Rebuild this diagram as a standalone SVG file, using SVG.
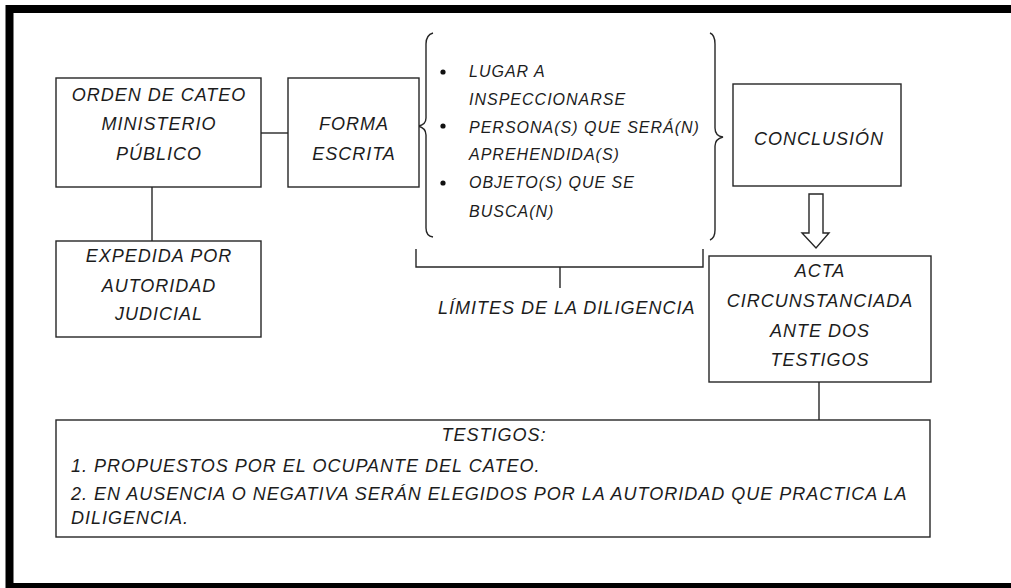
<svg xmlns="http://www.w3.org/2000/svg" width="1011" height="588" viewBox="0 0 1011 588">
<style>
.box{fill:#fff;stroke:#262626;stroke-width:1.4}
.ln{fill:none;stroke:#262626;stroke-width:1.4}
.t{font-family:"Liberation Sans",Arial,sans-serif;font-style:italic;font-size:18px;fill:#1c1c1c;letter-spacing:1px}
.c{text-anchor:middle}
.s{font-size:16px}
</style>
<rect x="0" y="0" width="1011" height="588" fill="#fff"/>
<rect x="9.5" y="9" width="1100" height="578" fill="none" stroke="#000" stroke-width="8"/>
<g id="connectors">
<line class="ln" x1="261" y1="133" x2="288" y2="133"/>
<line class="ln" x1="152" y1="187" x2="152" y2="241"/>
<path class="ln" d="M433,33 Q426,35 426,44 L426,118 Q426,125 418,126 Q426,128 426,135 L426,228 Q426,236 433,237"/>
<path class="ln" d="M710,33 Q715,35 715,44 L715,128 Q715,136 723,137 Q715,139 715,146 L715,230 Q715,238 710,240"/>
<path class="ln" d="M416,249 L416,267 L703,267 L703,249 M560,267 L560,288"/>
<path class="ln" d="M809,194 L823,194 L823,233 L829,233 L816,248 L802,233 L809,233 Z"/>
<line class="ln" x1="819" y1="382" x2="819" y2="420"/>
</g>
<g id="orden">
<rect class="box" x="56" y="78" width="205" height="109"/>
<text class="t c" x="159" y="101">ORDEN DE CATEO</text>
<text class="t c" x="159" y="130">MINISTERIO</text>
<text class="t c" x="159" y="160">PÚBLICO</text>
</g>
<g id="forma">
<rect class="box" x="288" y="78" width="131" height="109"/>
<text class="t c" x="354" y="130">FORMA</text>
<text class="t c" x="354" y="160">ESCRITA</text>
</g>
<g id="expedida">
<rect class="box" x="56" y="241" width="205" height="96"/>
<text class="t c" x="159" y="262">EXPEDIDA POR</text>
<text class="t c" x="159" y="292">AUTORIDAD</text>
<text class="t c" x="159" y="320">JUDICIAL</text>
</g>
<g id="limites">
<circle cx="443" cy="72" r="2.6" fill="#111"/>
<circle cx="443" cy="126" r="2.6" fill="#111"/>
<circle cx="443" cy="183" r="2.6" fill="#111"/>
<text class="t s" x="469" y="77">LUGAR A</text>
<text class="t s" x="469" y="105">INSPECCIONARSE</text>
<text class="t s" x="469" y="133">PERSONA(S) QUE SERÁ(N)</text>
<text class="t s" x="469" y="160">APREHENDIDA(S)</text>
<text class="t s" x="469" y="188">OBJETO(S) QUE SE</text>
<text class="t s" x="469" y="217">BUSCA(N)</text>
</g>
<g id="limites-label">
<text class="t" x="438" y="314">LÍMITES DE LA DILIGENCIA</text>
</g>
<g id="conclusion">
<rect class="box" x="733" y="84" width="168" height="102"/>
<text class="t c" x="819" y="145">CONCLUSIÓN</text>
</g>
<g id="acta">
<rect class="box" x="709" y="256" width="222" height="126"/>
<text class="t c" x="820" y="277">ACTA</text>
<text class="t c" x="820" y="307">CIRCUNSTANCIADA</text>
<text class="t c" x="820" y="337">ANTE DOS</text>
<text class="t c" x="820" y="366">TESTIGOS</text>
</g>
<g id="testigos">
<rect class="box" x="56" y="420" width="874" height="117"/>
<text class="t c" x="494" y="441">TESTIGOS:</text>
<text class="t" x="71" y="472">1. PROPUESTOS POR EL OCUPANTE DEL CATEO.</text>
<text class="t" x="71" y="500">2. EN AUSENCIA O NEGATIVA SERÁN ELEGIDOS POR LA AUTORIDAD QUE PRACTICA LA</text>
<text class="t" x="71" y="524">DILIGENCIA.</text>
</g>
</svg>
